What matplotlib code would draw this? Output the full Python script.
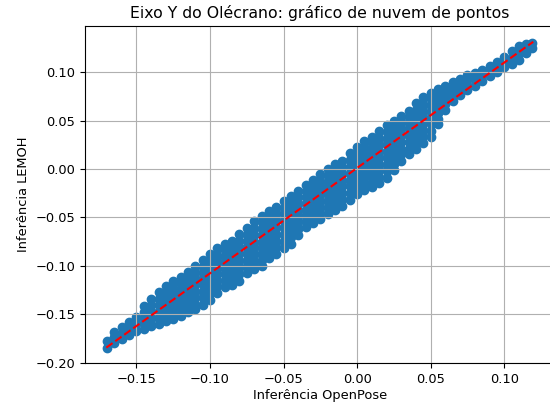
import matplotlib
matplotlib.use("Agg")
import matplotlib.pyplot as plt

# columns of the point cloud (x = OpenPose, y = LEMOH)
col_x = [-0.170, -0.165, -0.160, -0.155, -0.150, -0.145, -0.140, -0.135,
         -0.130, -0.125, -0.120, -0.115, -0.110, -0.105, -0.100, -0.095,
         -0.090, -0.085, -0.080, -0.075, -0.070, -0.065, -0.060, -0.055,
         -0.050, -0.045, -0.040, -0.035, -0.030, -0.025, -0.020, -0.015,
         -0.010, -0.005, 0.000, 0.005, 0.010, 0.015, 0.020, 0.025,
         0.030, 0.035, 0.040, 0.045, 0.050, 0.055, 0.060, 0.065,
         0.070, 0.075, 0.080, 0.085, 0.090, 0.095, 0.100, 0.105,
         0.110, 0.115, 0.119]

col_y = [
    [-0.185, -0.178],
    [-0.180, -0.174, -0.168],
    [-0.176, -0.170, -0.163],
    [-0.172, -0.165, -0.158],
    [-0.167, -0.160, -0.153],
    [-0.165, -0.159, -0.154, -0.148, -0.142],
    [-0.162, -0.155, -0.148, -0.141, -0.134],
    [-0.160, -0.153, -0.147, -0.140, -0.134, -0.127],
    [-0.157, -0.151, -0.145, -0.139, -0.133, -0.127, -0.121],
    [-0.155, -0.149, -0.142, -0.136, -0.129, -0.123, -0.116],
    [-0.152, -0.145, -0.139, -0.132, -0.125, -0.119, -0.112],
    [-0.148, -0.141, -0.134, -0.127, -0.120, -0.113, -0.106],
    [-0.145, -0.139, -0.132, -0.126, -0.119, -0.113, -0.106, -0.100],
    [-0.140, -0.133, -0.127, -0.120, -0.114, -0.107, -0.101, -0.094],
    [-0.135, -0.128, -0.122, -0.115, -0.108, -0.102, -0.095, -0.088],
    [-0.128, -0.121, -0.115, -0.108, -0.102, -0.095, -0.089, -0.082],
    [-0.122, -0.116, -0.109, -0.103, -0.097, -0.091, -0.084, -0.078],
    [-0.120, -0.113, -0.107, -0.100, -0.094, -0.087, -0.081, -0.074],
    [-0.116, -0.109, -0.102, -0.095, -0.088, -0.081, -0.074, -0.067],
    [-0.107, -0.100, -0.094, -0.087, -0.081, -0.074, -0.068, -0.061],
    [-0.103, -0.096, -0.089, -0.082, -0.075, -0.068, -0.061, -0.054],
    [-0.100, -0.094, -0.087, -0.081, -0.075, -0.068, -0.062, -0.055, -0.049],
    [-0.092, -0.085, -0.078, -0.071, -0.064, -0.057, -0.050, -0.043],
    [-0.088, -0.081, -0.074, -0.067, -0.060, -0.053, -0.046, -0.039],
    [-0.082, -0.075, -0.068, -0.061, -0.054, -0.047, -0.040, -0.033],
    [-0.077, -0.070, -0.063, -0.056, -0.049, -0.042, -0.035, -0.028],
    [-0.068, -0.062, -0.055, -0.049, -0.042, -0.036, -0.029, -0.023],
    [-0.060, -0.054, -0.048, -0.042, -0.035, -0.029, -0.023, -0.017],
    [-0.056, -0.050, -0.043, -0.037, -0.030, -0.024, -0.017, -0.011],
    [-0.052, -0.045, -0.039, -0.032, -0.025, -0.018, -0.012, -0.005],
    [-0.047, -0.040, -0.034, -0.027, -0.020, -0.013, -0.007, 0.000],
    [-0.042, -0.035, -0.029, -0.022, -0.015, -0.008, -0.002, 0.005],
    [-0.038, -0.031, -0.025, -0.018, -0.012, -0.005, 0.002, 0.008],
    [-0.032, -0.025, -0.018, -0.011, -0.004, 0.002, 0.009, 0.016],
    [-0.026, -0.019, -0.012, -0.005, 0.002, 0.009, 0.016, 0.023],
    [-0.022, -0.016, -0.009, -0.003, 0.004, 0.010, 0.016, 0.023, 0.029],
    [-0.019, -0.013, -0.006, 0.000, 0.007, 0.014, 0.020, 0.027, 0.033],
    [-0.015, -0.008, -0.001, 0.005, 0.012, 0.019, 0.026, 0.032, 0.039],
    [-0.009, -0.002, 0.004, 0.011, 0.018, 0.025, 0.031, 0.038, 0.045],
    [-0.001, 0.005, 0.012, 0.018, 0.024, 0.030, 0.037, 0.043, 0.049],
    [0.008, 0.015, 0.021, 0.028, 0.035, 0.042, 0.048, 0.055],
    [0.015, 0.021, 0.028, 0.034, 0.041, 0.047, 0.054, 0.060],
    [0.021, 0.028, 0.034, 0.041, 0.048, 0.054, 0.061, 0.068],
    [0.027, 0.034, 0.040, 0.047, 0.054, 0.060, 0.067, 0.074],
    [0.033, 0.039, 0.046, 0.052, 0.059, 0.065, 0.072, 0.078],
    [0.046, 0.052, 0.058, 0.065, 0.071, 0.077, 0.083],
    [0.061, 0.067, 0.074, 0.080, 0.086],
    [0.070, 0.077, 0.083, 0.090],
    [0.076, 0.082, 0.087, 0.093],
    [0.082, 0.087, 0.092, 0.097],
    [0.086, 0.093, 0.099],
    [0.091, 0.097, 0.102],
    [0.096, 0.101, 0.106],
    [0.100, 0.105, 0.110],
    [0.105, 0.110, 0.116],
    [0.108, 0.115, 0.122],
    [0.113, 0.120, 0.127],
    [0.120, 0.125, 0.129],
    [0.125, 0.130],
]

# regression line ends
fit_x = [-0.1705, 0.1197]
fit_y = [-0.1845, 0.1313]

x_openpose = []
y_lemoh = []
for cx, ys in zip(col_x, col_y):
    for cy in ys:
        x_openpose.append(cx)
        y_lemoh.append(cy)

plt.rcParams['font.size'] = 9.4

fig = plt.figure(figsize=(5.5, 4.05), dpi=100)
ax = fig.add_axes([0.1545, 0.103, 0.8538, 0.833])

ax.scatter(x_openpose, y_lemoh)
ax.plot(fit_x, fit_y, 'r--')

ax.set_xlim(-0.185, 0.1342)
ax.set_ylim(-0.2007, 0.1477)
ax.set_title("Eixo Y do Olécrano: gráfico de nuvem de pontos", fontsize=11.3)
ax.set_xlabel("Inferência OpenPose", labelpad=2.5)
ax.set_ylabel("Inferência LEMOH")
ax.grid(True)

fig.savefig("out.png")
